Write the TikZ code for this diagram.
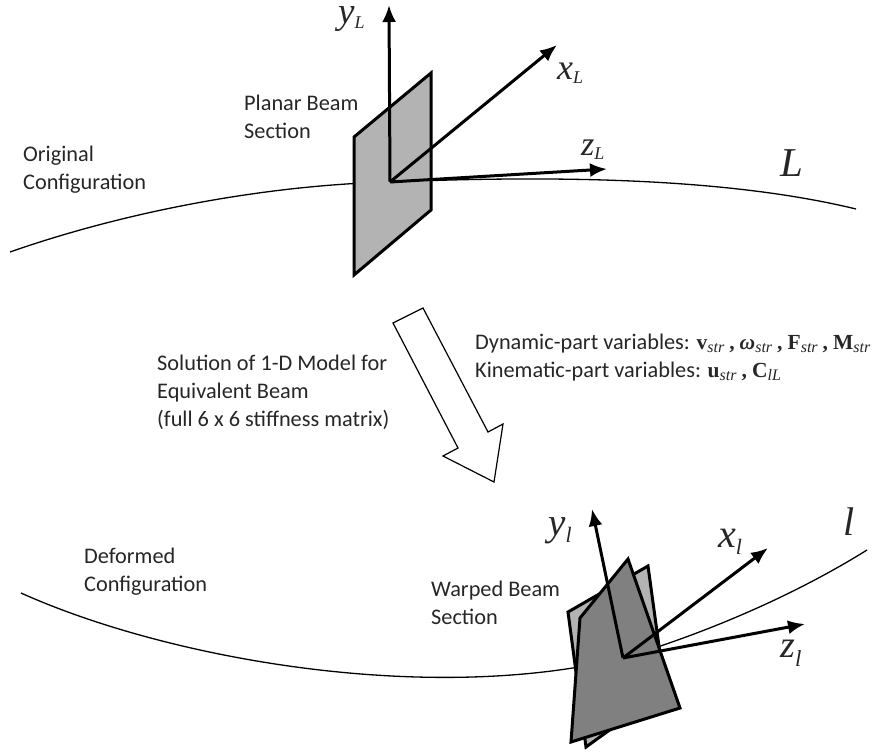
\documentclass[tikz,border=0pt]{standalone}
\usepackage{fontspec}
\setmainfont{Carlito}
\newfontfamily\tnr{Liberation Serif}
\usetikzlibrary{arrows.meta,calc,positioning}
\definecolor{cplane}{RGB}{179,179,179}
\definecolor{cwarp}{RGB}{128,128,128}
\definecolor{ctext}{RGB}{38,38,38}
% letter, subscript, letter size, subscript size, subscript drop
\newcommand{\axlab}[5]{{\tnr\itshape\fontsize{#3}{#3}\selectfont #1\raisebox{-#5pt}{\fontsize{#4}{#4}\selectfont #2}}}
\newcommand{\varb}[2]{{\tnr\bfseries\fontsize{21.5}{22}\selectfont #1\raisebox{-3pt}{\mdseries\itshape\fontsize{16}{16}\selectfont #2}}}
\tikzset{
  caption/.style={font=\fontsize{22.3}{28}\selectfont,text=ctext,align=left,anchor=west,inner sep=0pt},
  axlabel/.style={inner sep=0pt,text=ctext,anchor=base west},
  axis/.style={-{Latex[length=17pt,width=14pt]},line width=3pt},
  section/.style={draw=black,line width=3pt,line join=miter},
  curve/.style={line width=1.3pt},
  bigarrow/.style={draw=black,fill=white,line width=1.2pt,line join=miter}
}
\begin{document}
\begin{tikzpicture}[x=1pt,y=-1pt]
  \useasboundingbox (0,0) rectangle (872,752);
  % reference line L and planar section
  \coordinate (oL) at (390,182);
  \coordinate (xL) at (557,45);
  \coordinate (yL) at (389,5);
  \coordinate (zL) at (607,169);
  \draw[curve] (10,252) .. controls (130,210) and (270,185) .. (oL)
    .. controls (540,176) and (720,176) .. (856,209);
  \draw[section,fill=cplane] (354,137) -- (431,73) -- (431,210) -- (354,275) -- cycle;
  \draw[axis] (oL) -- (yL);
  \draw[axis] (oL) -- (xL);
  \draw[axis] (oL) -- (zL);
  \node[axlabel] (labyL) at (338,24) {\axlab{y}{L}{37}{18}{5}};
  \node[axlabel] (labxL) at (557,79) {\axlab{x}{L}{36}{18}{4}};
  \node[axlabel] (labzL) at (581,155) {\axlab{z}{L}{34}{18}{4}};
  \node[axlabel] (labL) at (780,176) {\axlab{L}{}{41}{15}{0}};
  \node[caption] (planar) at (244,117) {Planar Beam\\Section};
  \node[caption] (orig) at (23,170) {Original\\Configuration};
  % transition between the two configurations
  \draw[bigarrow] (423,308) -- (393,323) -- (458,448) -- (443,456) -- (494,482)
    -- (503,424) -- (488,432) -- cycle;
  \node[caption] (solution) at (157,392) {Solution of 1-D Model for\\Equivalent Beam\\(full 6 x 6 stiffness matrix)};
  \node[caption] (vars) at (475,358) {Dynamic-part variables: \varb{v}{str} \varb{,}{} \varb{\itshape ω}{str} \varb{,}{} \varb{F}{str} \varb{,}{} \varb{M}{str}\\
    Kinematic-part variables: \varb{u}{str} \varb{,}{} \varb{C}{lL}};
  % deformed line l and warped section
  \coordinate (ol) at (623,658);
  \coordinate (xl) at (768,548);
  \coordinate (yl) at (592,509);
  \coordinate (zl) at (805,624);
  \draw[curve] (21,593) .. controls (170,660) and (430,705) .. (ol)
    .. controls (700,635) and (790,598) .. (867,550);
  \draw[section,fill=cplane] (568,612) -- (648,566) -- (665,690) -- (586,747) -- cycle;
  \draw[section,fill=cwarp] (580,618) -- (628,559) -- (680,708) -- (571,742) -- cycle;
  \draw[axis] (ol) -- (yl);
  \draw[axis] (ol) -- (xl);
  \draw[axis] (ol) -- (zl);
  \node[axlabel] (labyl) at (548,535) {\axlab{y}{l}{39}{22}{7}};
  \node[axlabel] (labxl) at (718,547) {\axlab{x}{l}{40}{22}{7}};
  \node[axlabel] (labzl) at (780,657) {\axlab{z}{l}{38}{23}{9}};
  \node[axlabel] (labl) at (843,535) {\axlab{l}{}{40}{15}{0}};
  \node[caption] (warped) at (431,603) {Warped Beam\\Section};
  \node[caption] (deform) at (84,572) {Deformed\\Configuration};
\end{tikzpicture}
\end{document}
